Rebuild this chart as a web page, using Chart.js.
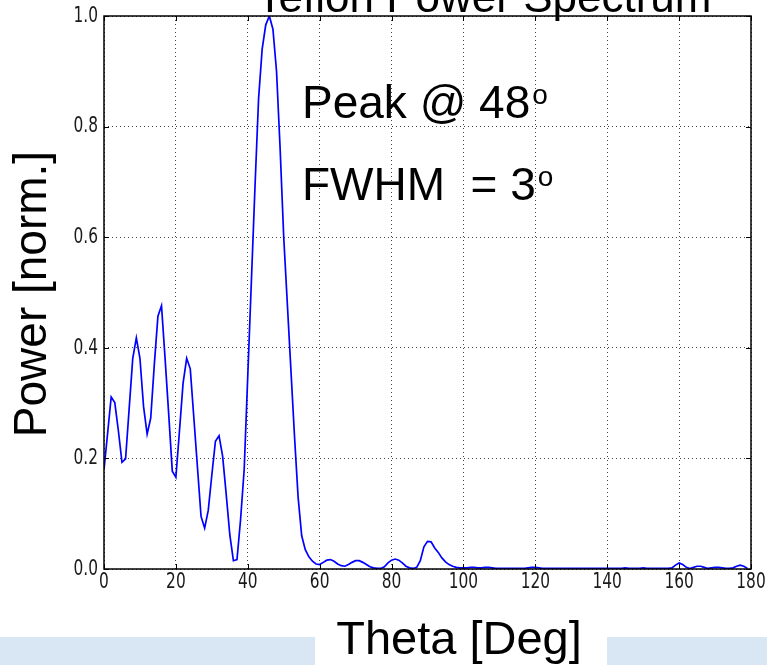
<!DOCTYPE html>
<html>
<head>
<meta charset="utf-8">
<script src="https://cdn.jsdelivr.net/npm/chart.js@4.4.1/dist/chart.umd.min.js"></script>
<style>
  html, body { margin: 0; padding: 0; background: #ffffff; }
  #wrap { width: 767px; height: 665px; }
</style>
</head>
<body>
<div id="wrap"><canvas id="spectrum" width="767" height="665"></canvas></div>
<script>
// Teflon power spectrum, normalised power vs. scattering angle

const theta = [
    0, 1, 2, 3, 4, 5, 6, 7, 8, 9, 10, 11, 12, 13, 14, 15, 16, 17, 18, 19,
    20, 21, 22, 23, 24, 25, 26, 27, 28, 29, 30, 31, 32, 33, 34, 35, 36, 37, 38, 39,
    40, 41, 42, 43, 44, 45, 46, 47, 48, 49, 50, 51, 52, 53, 54, 55, 56, 57, 58, 59,
    60, 61, 62, 63, 64, 65, 66, 67, 68, 69, 70, 71, 72, 73, 74, 75, 76, 77, 78, 79,
    80, 81, 82, 83, 84, 85, 86, 87, 88, 89, 90, 91, 92, 93, 94, 95, 96, 97, 98, 99,
    100, 101, 102, 103, 104, 105, 106, 107, 108, 109, 110, 111, 112, 113, 114, 115, 116, 117, 118, 119,
    120, 121, 122, 123, 124, 125, 126, 127, 128, 129, 130, 131, 132, 133, 134, 135, 136, 137, 138, 139,
    140, 141, 142, 143, 144, 145, 146, 147, 148, 149, 150, 151, 152, 153, 154, 155, 156, 157, 158, 159,
    160, 161, 162, 163, 164, 165, 166, 167, 168, 169, 170, 171, 172, 173, 174, 175, 176, 177, 178, 179
];

const power = [
    0.180, 0.245, 0.311, 0.301, 0.250, 0.193, 0.199, 0.290, 0.381, 0.418,
    0.381, 0.294, 0.244, 0.273, 0.370, 0.457, 0.476, 0.380, 0.280, 0.177,
    0.166, 0.250, 0.336, 0.381, 0.362, 0.273, 0.184, 0.095, 0.074, 0.106,
    0.170, 0.231, 0.241, 0.204, 0.135, 0.062, 0.015, 0.017, 0.090, 0.180,
    0.350, 0.520, 0.690, 0.850, 0.940, 0.984, 1.000, 0.976, 0.900, 0.760,
    0.600, 0.480, 0.360, 0.240, 0.130, 0.060, 0.035, 0.022, 0.014, 0.009,
    0.008, 0.012, 0.016, 0.017, 0.014, 0.009, 0.006, 0.005, 0.008, 0.012,
    0.015, 0.015, 0.012, 0.008, 0.004, 0.002, 0.001, 0.001, 0.004, 0.011,
    0.016, 0.018, 0.016, 0.011, 0.005, 0.002, 0.001, 0.003, 0.015, 0.040,
    0.050, 0.049, 0.038, 0.030, 0.020, 0.013, 0.008, 0.005, 0.003, 0.002,
    0.002, 0.002, 0.003, 0.003, 0.002, 0.002, 0.003, 0.003, 0.002, 0.001,
    0.001, 0.001, 0.001, 0.001, 0.001, 0.001, 0.001, 0.001, 0.002, 0.003,
    0.003, 0.002, 0.001, 0.001, 0.001, 0.001, 0.001, 0.001, 0.001, 0.001,
    0.001, 0.001, 0.001, 0.001, 0.001, 0.001, 0.001, 0.001, 0.001, 0.001,
    0.001, 0.001, 0.001, 0.001, 0.001, 0.002, 0.001, 0.001, 0.001, 0.001,
    0.002, 0.001, 0.001, 0.001, 0.001, 0.001, 0.001, 0.001, 0.002, 0.007,
    0.011, 0.008, 0.003, 0.001, 0.003, 0.005, 0.005, 0.003, 0.001, 0.002,
    0.003, 0.003, 0.002, 0.001, 0.001, 0.002, 0.005, 0.007, 0.005, 0.001
];

const xTicks = [0, 20, 40, 60, 80, 100, 120, 140, 160, 180];
const yTicks = [0.0, 0.2, 0.4, 0.6, 0.8, 1.0];

const titleText = 'Teflon Power Spectrum';
const xTitle = 'Theta [Deg]';
const yTitle = 'Power [norm.]';
const peakNote = 'Peak @ 48';
const fwhmNote = 'FWHM  = 3';

const bigFont = '"Liberation Sans", Arial, sans-serif';
const tickFont = '"DejaVu Sans", sans-serif';

// tick text in the reference is a squeezed matplotlib export, so draw it narrowed
function squeezedText(ctx, txt, x, y, align) {
    const sx = 0.7;
    ctx.save();
    ctx.translate(x, y);
    ctx.scale(sx, 1);
    ctx.textAlign = align;
    ctx.fillText(txt, 0, 0);
    ctx.restore();
}

// slide decoration, text, frame and inward ticks (matplotlib classic look)
const slidePlugin = {
    id: 'slideDecor',
    beforeDraw(chart) {
        const ctx = chart.ctx;
        ctx.save();
        ctx.fillStyle = '#d9e7f5';
        ctx.fillRect(0, 637, 315, 28);
        ctx.fillRect(607, 637, 160, 28);
        ctx.restore();
    },
    afterDatasetsDraw(chart) {
        const ctx = chart.ctx;
        const a = chart.chartArea;
        const xs = chart.scales.x;
        const ys = chart.scales.y;
        ctx.save();

        // inward tick marks on all four sides
        ctx.strokeStyle = '#000';
        ctx.lineWidth = 1;
        ctx.beginPath();
        xTicks.forEach(v => {
            const px = Math.round(xs.getPixelForValue(v)) + 0.5;
            ctx.moveTo(px, a.bottom); ctx.lineTo(px, a.bottom - 5);
            ctx.moveTo(px, a.top); ctx.lineTo(px, a.top + 5);
        });
        yTicks.forEach(v => {
            const py = Math.round(ys.getPixelForValue(v)) + 0.5;
            ctx.moveTo(a.left, py); ctx.lineTo(a.left + 5, py);
            ctx.moveTo(a.right, py); ctx.lineTo(a.right - 5, py);
        });
        ctx.stroke();

        // axes frame
        ctx.lineWidth = 1.5;
        ctx.strokeRect(a.left, a.top, a.right - a.left, a.bottom - a.top);

        // tick labels
        ctx.fillStyle = '#1a1a1a';
        ctx.font = '22px ' + tickFont;
        ctx.textBaseline = 'top';
        xTicks.forEach(v => {
            squeezedText(ctx, String(v), xs.getPixelForValue(v), a.bottom + 2, 'center');
        });
        ctx.textBaseline = 'middle';
        yTicks.forEach(v => {
            squeezedText(ctx, v.toFixed(1), a.left - 6, ys.getPixelForValue(v), 'right');
        });

        // titles
        ctx.fillStyle = '#000';
        ctx.textBaseline = 'alphabetic';
        ctx.textAlign = 'center';
        ctx.font = '44px ' + bigFont;
        ctx.fillText(titleText, 484, 12);
        ctx.font = '47px ' + bigFont;
        ctx.fillText(xTitle, 459, 654);

        ctx.save();
        ctx.translate(46, 294);
        ctx.rotate(-Math.PI / 2);
        ctx.font = '46px ' + bigFont;
        ctx.fillText(yTitle, 0, 0);
        ctx.restore();

        // annotations with superscript degree "o"
        ctx.textAlign = 'left';
        const notes = [[peakNote, 118], [fwhmNote, 200]];
        notes.forEach(([txt, base]) => {
            ctx.font = '46px ' + bigFont;
            ctx.fillText(txt, 302, base);
            const w = ctx.measureText(txt).width;
            ctx.font = '28px ' + bigFont;
            ctx.fillText('o', 302 + w + 2, base - 14);
        });

        ctx.restore();
    }
};

const ctx = document.getElementById('spectrum');

new Chart(ctx, {
    type: 'line',
    data: {
        datasets: [{
            data: theta.map((t, i) => ({ x: t, y: power[i] })),
            borderColor: '#0000ff',
            borderWidth: 1.7,
            pointRadius: 0,
            tension: 0,
            fill: false
        }]
    },
    options: {
        responsive: false,
        devicePixelRatio: 1,
        animation: false,
        layout: {
            padding: { left: 0, right: 16, top: 16, bottom: 0 }
        },
        plugins: {
            legend: { display: false },
            tooltip: { enabled: false }
        },
        scales: {
            x: {
                type: 'linear',
                min: 0,
                max: 180,
                afterFit: scale => { scale.height = 96; },
                afterBuildTicks: scale => { scale.ticks = xTicks.map(v => ({ value: v })); },
                grid: {
                    color: '#444',
                    lineWidth: 1,
                    drawTicks: false
                },
                border: { display: false, dash: [1, 3] },
                ticks: { display: false }
            },
            y: {
                min: 0,
                max: 1,
                afterFit: scale => { scale.width = 104; },
                afterBuildTicks: scale => { scale.ticks = yTicks.map(v => ({ value: v })); },
                grid: {
                    color: '#444',
                    lineWidth: 1,
                    drawTicks: false
                },
                border: { display: false, dash: [1, 3] },
                ticks: { display: false }
            }
        }
    },
    plugins: [slidePlugin]
});
</script>
</body>
</html>
